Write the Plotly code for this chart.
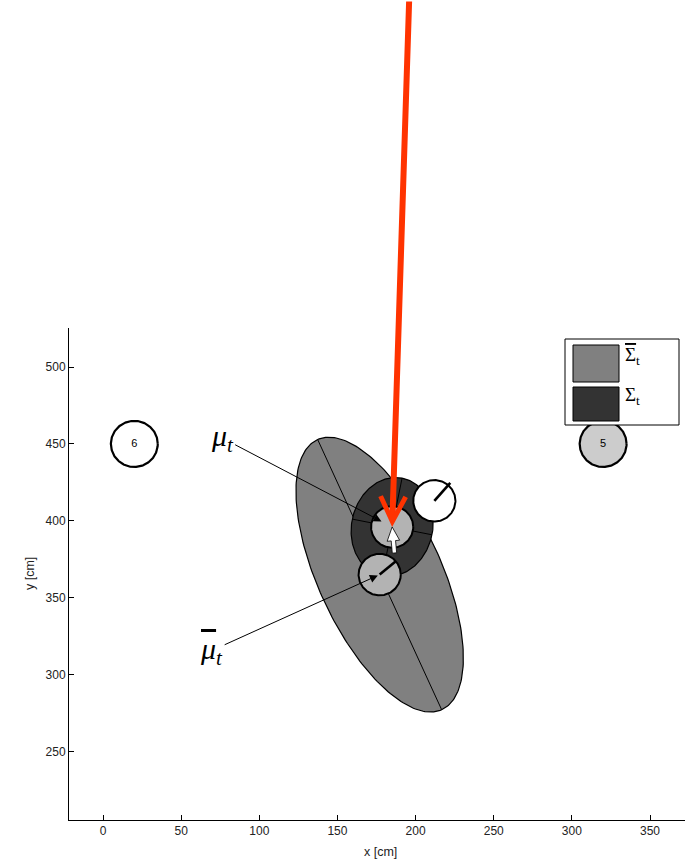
import numpy as np
import plotly.graph_objects as go

# Landmarks (id, position, fill)
lm_id = ["6", "5"]
lm_x = [20, 320]
lm_y = [450, 450]
lm_fill = ["#ffffff", "#cccccc"]
lm_r = 15

# Robot poses: true pose, corrected mean mu_t, predicted mean mu_bar_t
pose_x = [212, 185, 177]
pose_y = [413, 396, 365]
pose_theta = [49, 95, 40]          # heading in degrees
pose_fill = ["#ffffff", "#b3b3b3", "#b3b3b3"]
robot_r = 13.5

# Covariance ellipses: predicted (Sigma_bar) and corrected (Sigma)
OVER = '<span style="text-decoration:overline">{}</span>'
ell_label = [OVER.format("Σ") + "<sub>t</sub>", "Σ<sub>t</sub>"]
ell_cx = [177, 185]
ell_cy = [365, 396]
ell_a = [96.4, 32.4]               # semi-major
ell_b = [39.5, 26.0]               # semi-minor
ell_angle = [114.3, 78.7]          # orientation of major axis, degrees
ell_fill = ["#808080", "#333333"]

x_ticks = [0, 50, 100, 150, 200, 250, 300, 350]
y_ticks = [250, 300, 350, 400, 450, 500]
x_range = [-21.8, 372.4]
y_range = [205.4, 525.4]

t = np.linspace(0, 2 * np.pi, 241)


def ellipse_xy(cx, cy, a, b, ang):
    ph = np.deg2rad(ang)
    ex = cx + a * np.cos(t) * np.cos(ph) - b * np.sin(t) * np.sin(ph)
    ey = cy + a * np.cos(t) * np.sin(ph) + b * np.sin(t) * np.cos(ph)
    return ex, ey


def axis_seg(cx, cy, length, ang):
    ph = np.deg2rad(ang)
    return ([cx - length * np.cos(ph), cx + length * np.cos(ph)],
            [cy - length * np.sin(ph), cy + length * np.sin(ph)])


fig = go.Figure()

line_k = dict(color="black", width=1)

# predicted covariance ellipse with its major axis
ex, ey = ellipse_xy(ell_cx[0], ell_cy[0], ell_a[0], ell_b[0], ell_angle[0])
fig.add_trace(go.Scatter(x=ex, y=ey, mode="lines", fill="toself",
                         fillcolor=ell_fill[0], line=dict(color="black", width=1.2),
                         hoverinfo="skip", showlegend=False))
sx, sy = axis_seg(ell_cx[0], ell_cy[0], ell_a[0], ell_angle[0])
fig.add_trace(go.Scatter(x=sx, y=sy, mode="lines", line=line_k,
                         hoverinfo="skip", showlegend=False))

# corrected covariance ellipse with both axes
ex, ey = ellipse_xy(ell_cx[1], ell_cy[1], ell_a[1], ell_b[1], ell_angle[1])
fig.add_trace(go.Scatter(x=ex, y=ey, mode="lines", fill="toself",
                         fillcolor=ell_fill[1], line=dict(color="black", width=1.2),
                         hoverinfo="skip", showlegend=False))
for ln, ang in [(ell_a[1], ell_angle[1]), (ell_b[1], ell_angle[1] - 90)]:
    sx, sy = axis_seg(ell_cx[1], ell_cy[1], ln, ang)
    fig.add_trace(go.Scatter(x=sx, y=sy, mode="lines", line=line_k,
                             hoverinfo="skip", showlegend=False))

# landmarks
for i in range(len(lm_id)):
    cx = lm_x[i] + lm_r * np.cos(t)
    cy = lm_y[i] + lm_r * np.sin(t)
    fig.add_trace(go.Scatter(x=cx, y=cy, mode="lines", fill="toself",
                             fillcolor=lm_fill[i], line=dict(color="black", width=2.2),
                             hoverinfo="skip", showlegend=False))
fig.add_trace(go.Scatter(x=lm_x, y=lm_y, mode="text", text=lm_id,
                         textfont=dict(family="Liberation Sans", size=11, color="black"),
                         hoverinfo="skip", showlegend=False))

# robot poses
for i in range(len(pose_x)):
    cx = pose_x[i] + robot_r * np.cos(t)
    cy = pose_y[i] + robot_r * np.sin(t)
    fig.add_trace(go.Scatter(x=cx, y=cy, mode="lines", fill="toself",
                             fillcolor=pose_fill[i], line=dict(color="black", width=2),
                             hoverinfo="skip", showlegend=False))

# heading lines for true pose and mu_bar
for i, ext in [(0, 1.15), (2, 1.0)]:
    ph = np.deg2rad(pose_theta[i])
    fig.add_trace(go.Scatter(
        x=[pose_x[i], pose_x[i] + ext * robot_r * np.cos(ph)],
        y=[pose_y[i], pose_y[i] + ext * robot_r * np.sin(ph)],
        mode="lines", line=dict(color="black", width=2.6),
        hoverinfo="skip", showlegend=False))

# heading arrow of mu_t (white)
ph = np.deg2rad(pose_theta[1])
u = np.array([np.cos(ph), np.sin(ph)])
v = np.array([-np.sin(ph), np.cos(ph)])
L, Lh, wh, ws = 17.0, 9.0, 4.0, 1.4
local = [(0, 0), (-Lh, wh), (-Lh, ws), (-L, ws), (-L, -ws), (-Lh, -ws), (-Lh, -wh), (0, 0)]
ax_ = [pose_x[1] + a * u[0] + b * v[0] for a, b in local]
ay_ = [pose_y[1] + a * u[1] + b * v[1] for a, b in local]
fig.add_trace(go.Scatter(x=ax_, y=ay_, mode="lines", fill="toself", fillcolor="white",
                         line=dict(color="black", width=0.8),
                         hoverinfo="skip", showlegend=False))

annotations = []
serif = dict(family="Liberation Serif", size=30, color="black")
# labels with leader arrows
annotations.append(dict(x=pose_x[1], y=pose_y[1], xref="x", yref="y",
                        text="<i>μ<sub>t</sub></i>", font=serif,
                        showarrow=True, arrowhead=2, arrowsize=1.6, arrowwidth=1,
                        arrowcolor="black", ax=-170, ay=-89, standoff=12))
annotations.append(dict(x=pose_x[2], y=pose_y[2], xref="x", yref="y",
                        text="<i>" + OVER.format("μ") + "<sub>t</sub></i>", font=serif,
                        showarrow=True, arrowhead=2, arrowsize=1.6, arrowwidth=1,
                        arrowcolor="black", ax=-168, ay=76, standoff=2))
# pointer to mu_t
annotations.append(dict(x=pose_x[1], y=pose_y[1], xref="x", yref="y", text="",
                        showarrow=True, arrowhead=5, arrowsize=0.82, arrowwidth=6,
                        arrowcolor="#ff3300", ax=17, ay=-527, standoff=0))

# axis titles
axfont = dict(family="Liberation Sans", size=12.5, color="#222222")
annotations.append(dict(x=(380 - 69) / 616, y=(820 - 852) / 492, xref="paper", yref="paper",
                        xanchor="center", yanchor="middle",
                        text="x [cm]", showarrow=False, font=axfont))
annotations.append(dict(x=(30 - 69) / 616, y=0.5, xref="paper", yref="paper",
                        xanchor="center", yanchor="middle",
                        text="y [cm]", textangle=-90, showarrow=False, font=axfont))

# legend drawn as patches
shapes = []


def px2paper(px, py):
    return (px - 69) / 616, (820 - py) / 492


bx0, by0 = px2paper(565, 425)
bx1, by1 = px2paper(679, 339)
shapes.append(dict(type="rect", xref="paper", yref="paper", x0=bx0, y0=by0, x1=bx1, y1=by1,
                   fillcolor="white", line=dict(color="black", width=1), layer="above"))
patch_rows = [(345, 382), (387, 421)]
for k, (top, bot) in enumerate(patch_rows):
    x0, y0 = px2paper(573, bot)
    x1, y1 = px2paper(619, top)
    shapes.append(dict(type="rect", xref="paper", yref="paper", x0=x0, y0=y0, x1=x1, y1=y1,
                       fillcolor=ell_fill[k], line=dict(color="black", width=1), layer="above"))
    lx, ly = px2paper(623, (top + bot) / 2)
    annotations.append(dict(x=lx, y=ly, xref="paper", yref="paper", xanchor="left",
                            yanchor="middle", yshift=8,
                            text=ell_label[k], showarrow=False,
                            font=dict(family="Liberation Serif", size=19, color="black")))

tickfont = dict(family="Liberation Sans", size=12, color="#222222")
fig.update_layout(
    width=685, height=862,
    margin=dict(l=69, r=0, t=328, b=42),
    paper_bgcolor="white", plot_bgcolor="white",
    xaxis=dict(range=x_range, tickvals=x_ticks, ticks="inside", ticklen=5,
               tickcolor="black", showline=True, linecolor="black", linewidth=1,
               showgrid=False, zeroline=False, tickfont=tickfont, fixedrange=True),
    yaxis=dict(range=y_range, tickvals=y_ticks, ticks="inside", ticklen=5,
               tickcolor="black", showline=True, linecolor="black", linewidth=1,
               showgrid=False, zeroline=False, tickfont=tickfont, fixedrange=True),
    shapes=shapes,
    annotations=annotations,
    showlegend=False,
)

fig.write_html("out.html")
